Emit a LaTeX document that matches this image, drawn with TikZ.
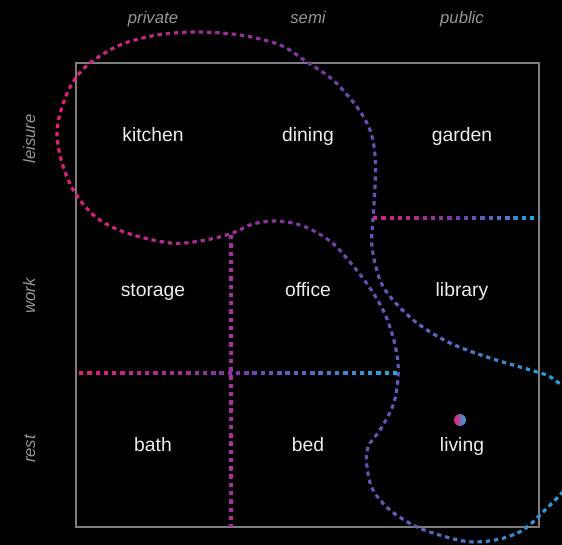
\documentclass[tikz,border=0pt]{standalone}
\usepackage{fontspec}
\setmainfont{Liberation Sans}
\usetikzlibrary{calc}

\definecolor{zonepink}{RGB}{232,28,122}
\definecolor{zonepurple}{RGB}{122,56,168}
\definecolor{zonecyan}{RGB}{30,172,228}
\definecolor{zonemix}{RGB}{172,46,158}
\definecolor{gridgray}{RGB}{125,125,125}
\definecolor{axisgray}{RGB}{150,150,150}

% dashed stroke, pink -> purple -> cyan from x=#1 to x=#2
\newcommand{\gradstroke}[3]{%
  \foreach \i in {0,...,39}{%
    \pgfmathsetmacro{\xa}{#1+(#2-#1)/40*\i-0.3}
    \pgfmathsetmacro{\xb}{#1+(#2-#1)/40*(\i+1)+0.3}
    \pgfmathtruncatemacro{\p}{(\i+0.5)*5}
    \ifnum\p<100 \colorlet{strk}{zonepurple!\p!zonepink}%
    \else\pgfmathtruncatemacro{\q}{\p-100}\colorlet{strk}{zonecyan!\q!zonepurple}\fi
    \begin{scope}
      \clip (\xa,-20) rectangle (\xb,600);
      \draw[zone,strk] #3;
    \end{scope}
  }%
}

\begin{document}
\begin{tikzpicture}[x=0.02cm,y=-0.02cm,
  zone/.style={line width=1.8pt,dash pattern=on 2.5pt off 2.2pt},
  room/.style={anchor=base,text=white!93!black,font=\fontsize{11}{13}\selectfont},
  axislabel/.style={anchor=base,text=axisgray,font=\fontsize{9.5}{11}\selectfont\itshape},
  dotnode/.style={circle,inner sep=0pt,minimum size=0.24cm,left color=zonepink,right color=zonecyan}]
\useasboundingbox (0,0) rectangle (562,545);
\fill[black] (0,0) rectangle (562,545);
\clip (0,0) rectangle (562,545);

\draw[gridgray,line width=0.6pt] (76,63) rectangle (539,527);

% column and row labels
\node[axislabel] (private) at (153,23) {private};
\node[axislabel] (semi) at (308,23) {semi};
\node[axislabel] (public) at (462,23) {public};
\node[axislabel,rotate=90] (leisure) at (35,139) {leisure};
\node[axislabel,rotate=90] (work) at (35,296) {work};
\node[axislabel,rotate=90] (rest) at (35,449) {rest};

% rooms
\node[room] (kitchen) at (153,141.5) {kitchen};
\node[room] (dining) at (308,141.5) {dining};
\node[room] (garden) at (462,141.5) {garden};
\node[room] (storage) at (153,296.5) {storage};
\node[room] (office) at (308,296.5) {office};
\node[room] (library) at (462,296.5) {library};
\node[room] (bath) at (153,451.5) {bath};
\node[room] (bed) at (308,451.5) {bed};
\node[room] (living) at (462,451.5) {living};

\node[dotnode] (dot) at (460,420) {};

% zone boundaries
\draw[zone,zonemix] (231,235)--(231,527);
\gradstroke{373}{539}{(373,218)--(539,218)}
\gradstroke{79}{398}{(79,373)--(398,373)}
\gradstroke{52}{580}{plot[smooth,tension=0.55] coordinates {
  (580,473) (560,495) (540,515) (523,530) (500,539) (473,542) (450,538)
  (417,527) (390,510) (373,490) (367,467) (368,447) (380,430) (392,408)
  (397,388) (398,363) (393,337) (384,312) (370,288) (350,262) (330,241)
  (303,226) (277,221) (253,224) (230,234) (200,241) (170,243) (127,233)
  (97,218) (75,193) (62,163) (57,133) (62,107) (73,82) (90,63) (120,45)
  (157,35) (197,32) (240,35) (280,45) (307,62) (333,80) (357,107) (370,130)
  (375,155) (375,187) (373,218) (372,247) (380,280) (393,300) (417,323)
  (450,343) (490,358) (537,372) (552,378) (580,400)}}
\end{tikzpicture}
\end{document}
